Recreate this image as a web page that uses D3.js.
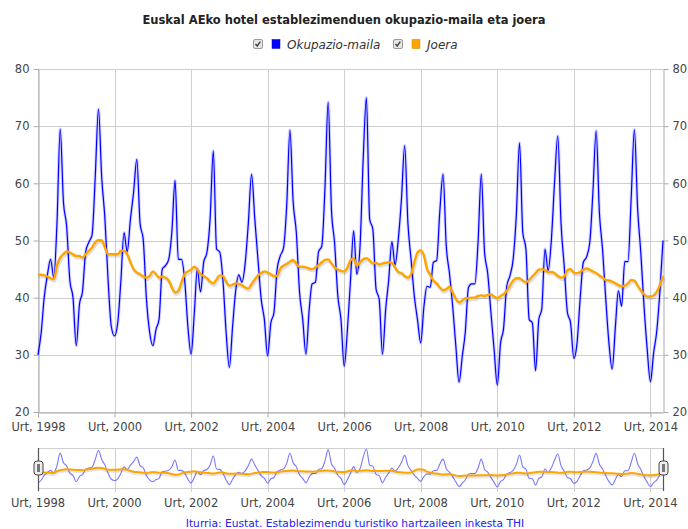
<!DOCTYPE html>
<html>
<head>
<meta charset="utf-8">
<script src="https://cdn.jsdelivr.net/npm/d3@7"></script>
<style>
  body { margin: 0; background: #fff; }
  svg { display: block; font-family: "DejaVu Sans", sans-serif; }
</style>
</head>
<body>
<svg width="688" height="529"></svg>
<script>
// monthly series, Jan 1998 .. May 2014 (Urt = urtarrila)
const firstYear = 1998;
const monthAbbr = "Urt";

const okupazioa = [
  30, 34, 40, 44, 46.7, 43.5, 53, 69.5, 56.7, 52.6, 43, 40,
  31.6, 38.9, 41, 48, 49.7, 51, 61, 73, 61, 54, 43, 35,
  33.3, 35.6, 42.7, 51.4, 48, 53.7, 58.4, 64.2, 53, 50.2, 39.7, 34,
  31.6, 34.5, 36.2, 45, 45.6, 46.7, 51.4, 60.5, 46.7, 46.7, 43, 35,
  30.1, 37.4, 45, 41, 46.2, 47.9, 53.7, 65.7, 48.5, 48, 43, 34,
  27.8, 35, 41, 44, 42.7, 46, 53, 61.6, 53.7, 46.7, 39.7, 36.2,
  29.8, 35.6, 37.3, 45, 47.3, 48.7, 56, 69.3, 56.7, 51.4, 40.9, 36.2,
  30.1, 38, 42.4, 42.7, 48, 49, 59, 74.2, 55.5, 49.6, 40.3, 36.2,
  28, 34.5, 42.7, 51.7, 44.1, 49, 64.2, 75, 53.7, 52, 41.5, 39.7,
  30.1, 38, 43, 49.8, 45.7, 50.2, 57.2, 66.6, 53, 46.7, 40.3, 36.2,
  32.1, 38.5, 42, 41.8, 46.2, 46.5, 55, 61.6, 49, 44.3, 38.5, 31.6,
  25.2, 29.8, 33.9, 41.8, 42.4, 42.4, 49.6, 61.6, 48, 44.3, 37.4, 31,
  24.7, 32.1, 34.5, 42, 43.8, 46.7, 54.3, 67.1, 51.4, 48.5, 36.2, 35.6,
  27.2, 36.2, 38, 48.5, 44.7, 50.2, 60.1, 68.3, 53, 45.6, 37.4, 35.6,
  29.4, 32.1, 39.7, 46.2, 47.1, 49.6, 58.4, 69.2, 54.9, 48.5, 39.7, 32.1,
  27.5, 35, 41.2, 38.5, 46.3, 46.3, 57.2, 69.4, 55.5, 47.9, 38.5, 31,
  25.3, 30.4, 33.9, 41, 50
];

const joera = [
  44.0, 44.0, 43.9, 43.7, 43.4, 43.2, 45.6, 47, 47.6, 48.1, 47.9, 47.6,
  47.3, 47.3, 47, 47.6, 48.2, 48.8, 49.7, 50.1, 50, 48.8, 47.6, 47.6,
  47.6, 47.6, 48.2, 48.2, 47.6, 46.2, 45, 44.4, 44.1, 43.7, 43.5, 43.8,
  44.6, 44.1, 43.5, 43.7, 43.5, 43, 41.8, 40.9, 41.2, 42.7, 44.1, 44.6,
  44.9, 45.4, 45, 44.1, 43.8, 43.4, 42.8, 42.5, 43.2, 43.9, 43.8, 42.8,
  42.1, 42.3, 42.5, 42.4, 42.2, 41.8, 41.6, 42.4, 43.2, 43.9, 44.3, 44.6,
  44.4, 44.1, 43.8, 43.8, 45.1, 45.6, 45.9, 46.3, 46.6, 45.9, 45.4, 45.4,
  45.3, 45.1, 45, 45.3, 45.7, 46.2, 46.6, 46.7, 46, 45.3, 44.9, 44.7,
  44.6, 45.3, 46.5, 46.9, 45.6, 46.2, 46.7, 46.9, 46.5, 46, 46.1, 45.8,
  46, 46.1, 46.2, 46.1, 45.3, 44.5, 44.3, 43.8, 43.5, 44.1, 46.2, 47.9,
  48.3, 47.3, 45, 44, 43, 42.5, 41.8, 41.3, 41.5, 41.9, 40.9, 39.8,
  39.2, 39.5, 39.9, 39.9, 40, 40, 40.3, 40.4, 40.3, 40.5, 40.6, 40.2,
  39.9, 40.3, 40.6, 41.2, 42.1, 43, 43.4, 43.4, 43, 42.7, 43.1, 43.7,
  44.3, 44.9, 45, 44.8, 44.5, 44.5, 44.3, 43.8, 43.5, 43.7, 44.8, 45,
  44.4, 44.3, 44.5, 44.9, 45.1, 44.9, 44.6, 44.3, 43.9, 43.5, 43.1, 43,
  42.8, 42.5, 42.2, 42, 42.1, 42.5, 43.1, 43, 42.1, 41.3, 40.6, 40.2,
  40.2, 40.4, 41, 42.2, 43.8
];

const yTicks = [20, 30, 40, 50, 60, 70, 80];
const labelYears = [1998, 2000, 2002, 2004, 2006, 2008, 2010, 2012, 2014];
const seriesNames = ["Okupazio-maila", "Joera"];
const colors = ["#0000ff", "#ffa500"];
const title = "Euskal AEko hotel establezimenduen okupazio-maila eta joera";
const source = "Iturria: Eustat. Establezimendu turistiko hartzaileen inkesta THI";

const dates = okupazioa.map((d, i) => new Date(firstYear, i, 1));
const rows = dates.map((d, i) => ({date: d, occ: okupazioa[i], trend: joera[i]}));

const svg = d3.select("svg");
const L = 38, R = 663, T = 69, B = 412;

const x = d3.scaleTime().domain(d3.extent(dates)).range([L, R]);
const y = d3.scaleLinear().domain([20, 80]).range([B, T]);
const tickDates = labelYears.map(yr => new Date(yr, 0, 1));
const fmt = d => monthAbbr + ", " + d.getFullYear();

// title
svg.append("text")
  .attr("x", 344).attr("y", 24)
  .attr("text-anchor", "middle")
  .style("font-weight", "bold")
  .style("font-size", "11.5px")
  .attr("fill", "#222")
  .text(title);

// legend
const legend = svg.append("g").attr("transform", "translate(253,39)");
const legX = [0, 140];
seriesNames.forEach((name, i) => {
  const g = legend.append("g").attr("transform", "translate(" + legX[i] + ",0)");
  g.append("rect").attr("x", 0.5).attr("y", 0.5).attr("width", 9).attr("height", 9).attr("rx", 1.5)
    .attr("fill", "#e6e6e6").attr("stroke", "#9a9a9a");
  g.append("path").attr("d", "M2.5,5 L4.2,7 L7.3,2.6").attr("fill", "none")
    .attr("stroke", "#444").attr("stroke-width", 1.4);
  g.append("rect").attr("x", 19).attr("y", 0.5).attr("width", 8).attr("height", 9)
    .attr("fill", colors[i]).attr("stroke", i === 0 ? "#0000aa" : "#cc8400").attr("stroke-width", 0.5);
  g.append("text").attr("x", 34).attr("y", 9.5)
    .style("font-style", "italic").style("font-size", "12px")
    .attr("fill", "#333").text(name);
});

// grid
const grid = svg.append("g").attr("stroke", "#cfcfcf").attr("stroke-width", 1);
grid.selectAll("line.h").data(yTicks).join("line")
  .attr("x1", L).attr("x2", R)
  .attr("y1", d => Math.round(y(d)) + 0.5).attr("y2", d => Math.round(y(d)) + 0.5);
grid.selectAll("line.v").data(tickDates).join("line")
  .attr("x1", d => Math.round(x(d)) + 0.5).attr("x2", d => Math.round(x(d)) + 0.5)
  .attr("y1", T).attr("y2", B);

function styleAxis(g) {
  g.select(".domain").attr("stroke", "#aaa");
  g.selectAll(".tick line").attr("stroke", "#aaa");
  g.selectAll(".tick text").attr("fill", "#444")
    .style("font-size", "11.5px").style("font-family", "'DejaVu Sans', sans-serif");
}

svg.append("g").attr("transform", "translate(" + (L + 0.5) + ",0)")
  .call(d3.axisLeft(y).tickValues(yTicks).tickSize(5).tickSizeOuter(0).tickPadding(4))
  .call(styleAxis);
svg.append("g").attr("transform", "translate(" + (R + 0.5) + ",0)")
  .call(d3.axisRight(y).tickValues(yTicks).tickSize(5).tickSizeOuter(0).tickPadding(4))
  .call(styleAxis);
svg.append("g").attr("transform", "translate(0," + (B + 0.5) + ")")
  .call(d3.axisBottom(x).tickValues(tickDates).tickFormat(fmt).tickSize(5).tickSizeOuter(0).tickPadding(5))
  .call(styleAxis);

// lines
const lineOcc = d3.line().x(d => x(d.date)).y(d => y(d.occ)).curve(d3.curveMonotoneX);
const lineTrend = d3.line().x(d => x(d.date)).y(d => y(d.trend)).curve(d3.curveMonotoneX);

svg.append("path").datum(rows).attr("d", lineOcc)
  .attr("fill", "none").attr("stroke", "#8080ff").attr("stroke-opacity", 0.35).attr("stroke-width", 3.2);
svg.append("path").datum(rows).attr("d", lineOcc)
  .attr("fill", "none").attr("stroke", colors[0]).attr("stroke-width", 1.2);

svg.append("path").datum(rows).attr("d", lineTrend).attr("transform", "translate(1,2)")
  .attr("fill", "none").attr("stroke", "#000").attr("stroke-opacity", 0.12).attr("stroke-width", 3);
svg.append("path").datum(rows).attr("d", lineTrend)
  .attr("fill", "none").attr("stroke", colors[1]).attr("stroke-width", 2.4);

// navigator
const NT = 448, NB = 488;
const yn = d3.scaleLinear().domain(d3.extent(okupazioa.concat(joera))).range([NB - 1, NT + 1]);
const nav = svg.append("g");
nav.append("line").attr("x1", L).attr("x2", R).attr("y1", NT + 0.5).attr("y2", NT + 0.5).attr("stroke", "#cfcfcf");
nav.append("line").attr("x1", L).attr("x2", R).attr("y1", NB + 0.5).attr("y2", NB + 0.5).attr("stroke", "#cfcfcf");
nav.selectAll("line.nv").data(tickDates).join("line")
  .attr("x1", d => Math.round(x(d)) + 0.5).attr("x2", d => Math.round(x(d)) + 0.5)
  .attr("y1", NT).attr("y2", NB + 4).attr("stroke", "#cfcfcf");
nav.selectAll("text").data(tickDates).join("text")
  .attr("x", d => x(d)).attr("y", 507).attr("text-anchor", "middle")
  .attr("fill", "#444").style("font-size", "11.5px").text(fmt);

const navOcc = d3.line().x(d => x(d.date)).y(d => yn(d.occ)).curve(d3.curveMonotoneX);
const navTrend = d3.line().x(d => x(d.date)).y(d => yn(d.trend)).curve(d3.curveMonotoneX);
nav.append("path").datum(rows).attr("d", navOcc)
  .attr("fill", "none").attr("stroke", "#5555ff").attr("stroke-opacity", 0.8).attr("stroke-width", 1.1);
nav.append("path").datum(rows).attr("d", navTrend).attr("transform", "translate(0,1.5)")
  .attr("fill", "none").attr("stroke", "#000").attr("stroke-opacity", 0.1).attr("stroke-width", 3);
nav.append("path").datum(rows).attr("d", navTrend)
  .attr("fill", "none").attr("stroke", colors[1]).attr("stroke-width", 2);

[L, R].forEach(px => {
  nav.append("line").attr("x1", px + 0.5).attr("x2", px + 0.5).attr("y1", NT).attr("y2", NB + 3)
    .attr("stroke", "#555").attr("stroke-width", 1.2);
  nav.append("rect").attr("x", px - 4).attr("y", 461).attr("width", 9).attr("height", 14).attr("rx", 3)
    .attr("fill", "#eee").attr("stroke", "#444").attr("stroke-width", 1);
  nav.append("rect").attr("x", px - 1).attr("y", 464).attr("width", 3).attr("height", 8)
    .attr("fill", "#777");
});

// source
svg.append("text")
  .attr("x", 355).attr("y", 527).attr("text-anchor", "middle")
  .style("font-size", "10.7px").attr("fill", "#2222ee")
  .text(source);
</script>
</body>
</html>
